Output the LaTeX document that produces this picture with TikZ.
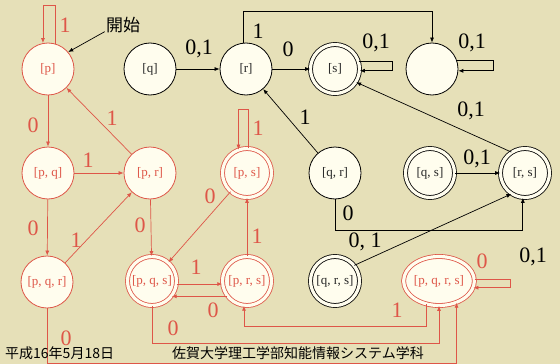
\documentclass[tikz,border=0pt]{standalone}
\usepackage{fontspec}
\setmainfont{Liberation Serif}
\newfontfamily\jpfont{Noto Sans CJK JP}
\usetikzlibrary{arrows.meta,shapes.geometric}
\definecolor{bg}{RGB}{230,224,184}
\definecolor{nfill}{RGB}{255,253,238}
\definecolor{rd}{RGB}{222,86,72}
\tikzset{
 base/.style={circle,fill=nfill,line width=0.8pt,inner sep=0pt,font=\fontsize{13}{13}\selectfont},
 st/.style={base,draw=black,text=black!85,minimum size=52pt},
 acc/.style={base,draw=black,text=black!85,double=nfill,double distance=3.2pt,minimum size=49pt},
 rst/.style={st,draw=rd,text=rd},
 racc/.style={acc,draw=rd,text=rd},
 ar/.style={line width=0.7pt,-{Latex[length=5pt,width=4pt]}},
 bar/.style={ar,draw=black},
 rar/.style={ar,draw=rd},
 lb/.style={font=\fontsize{22}{22}\selectfont,inner sep=0pt},
 rlb/.style={lb,text=rd},
}
\begin{document}
\begin{tikzpicture}[x=1pt,y=-1pt]
\fill[bg] (0,0) rectangle (560,364);
\useasboundingbox (0,0) rectangle (560,364);
% nodes
\node[rst] (p) at (48,69) {[p]};
\node[st] (q) at (150,69) {[q]};
\node[st] (r) at (246,69) {[r]};
\node[acc] (s) at (335,69) {[s]};
\node[st] (e) at (432,69) {};
\node[rst] (pq) at (48,173) {[p, q]};
\node[rst] (pr) at (150,173) {[p, r]};
\node[racc] (ps) at (247,173) {[p, s]};
\node[st] (qr) at (335,173) {[q, r]};
\node[acc] (qs) at (430,173) {[q, s]};
\node[acc] (rs) at (525,173) {[r, s]};
\node[rst] (pqr) at (47,282) {[p, q, r]};
\node[racc] (pqs) at (152,281) {[p, q, s]};
\node[racc] (prs) at (247,281) {[p, r, s]};
\node[acc] (qrs) at (335,281) {[q, r, s]};
\node[racc,ellipse,minimum width=69pt,minimum height=49pt] (pqrs) at (439,281) {[p, q, r, s]};
\node[font=\jpfont\fontsize{17}{17}\selectfont,inner sep=1pt] (start) at (123,25) {開始};
% red edges
\draw[bar] (start.200) -- (p.40);
\draw[rar] (p.74) -- ++(0,-38) -| (p.101);
\draw[rar] (p) -- (pq);
\draw[rar] (pr) -- (p);
\draw[rar] (pq) -- (pr);
\draw[rar] (pq) -- (pqr);
\draw[rar] (pqr) -- (pr);
\draw[rar] (pr) -- (pqs);
\draw[rar] (ps) -- (pqs);
\draw[rar] (ps.88) -- ++(0,-39) -| (ps.110);
\draw[rar] (prs) -- (ps);
\draw[rar] (pqs.-7) -- (prs.187);
\draw[rar] (prs.218) -- (pqs.-38);
\draw[rar] (pqrs.242) -- ++(0,22) -| (prs.263);
\draw[rar] (pqs.south) -- ++(0,37) -| (pqrs.south);
\draw[rar] (pqr.south) -- ++(0,55) -| (pqrs.-51);
\draw[rar] (pqrs.3) -- ++(36,0) |- (pqrs.-11);
% black edges
\draw[bar] (q) -- (r);
\draw[bar] (r) -- (s);
\draw[bar] (r.95) -- ++(0,-31) -| (e.north);
\draw[bar] (s.18) -- ++(34,0) |- (s.-4);
\draw[bar] (e.18) -- ++(36,0) |- (e.-4);
\draw[bar] (rs.123) -- (s.-32);
\draw[bar] (qr) -- (r);
\draw[bar] (qs) -- (rs);
\draw[bar] (qr.south) -- ++(0,31) -| (rs.265);
\draw[bar] (qrs.39) -- (rs.237);
% red labels
\node[rlb] (l1) at (65,25) {1};
\node[rlb] (l2) at (33,125) {0};
\node[rlb] (l3) at (112,118) {1};
\node[rlb] (l4) at (88,160) {1};
\node[rlb] (l5) at (33,228) {0};
\node[rlb] (l6) at (76,240) {1};
\node[rlb] (l7) at (140,225) {0};
\node[rlb] (l8) at (210,196) {0};
\node[rlb] (l9) at (258,128) {1};
\node[rlb] (l10) at (257,236) {1};
\node[rlb] (l11) at (196,267) {1};
\node[rlb] (l12) at (213,310) {0};
\node[rlb] (l13) at (397,310) {1};
\node[rlb] (l14) at (173,328) {0};
\node[rlb] (l15) at (66,338) {0};
\node[rlb] (l16) at (482,261) {0};
% black labels
\node[lb] (m1) at (199,49) {0,1};
\node[lb] (m2) at (258,31) {1};
\node[lb] (m3) at (288,49) {0};
\node[lb] (m4) at (376,43) {0,1};
\node[lb] (m5) at (472,43) {0,1};
\node[lb] (m6) at (471,111) {0,1};
\node[lb] (m7) at (477,159) {0,1};
\node[lb] (m8) at (305,117) {1};
\node[lb] (m9) at (348,213) {0};
\node[lb] (m10) at (365,242) {0, 1};
\node[lb] (m11) at (533,257) {0,1};
% footer
\node[font=\jpfont\fontsize{14}{14}\selectfont,inner sep=0pt,anchor=west] (f1) at (5,353) {平成16年5月18日};
\node[font=\jpfont\fontsize{14}{14}\selectfont,inner sep=0pt,anchor=west] (f2) at (172,353) {佐賀大学理工学部知能情報システム学科};
\end{tikzpicture}
\end{document}
